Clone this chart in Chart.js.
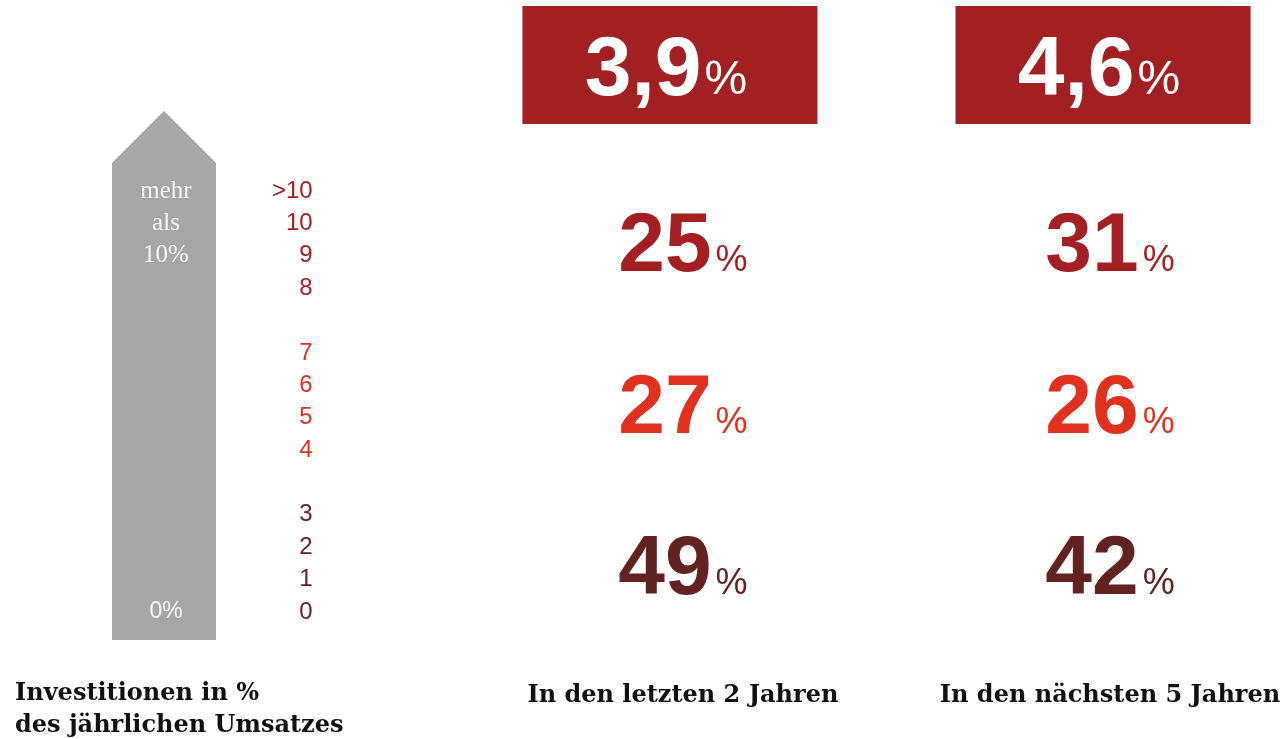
<!DOCTYPE html>
<html>
<head>
<meta charset="utf-8">
<script src="https://cdn.jsdelivr.net/npm/chart.js@4"></script>
<style>
  html, body { margin: 0; padding: 0; background: #ffffff; overflow: hidden; }
  #wrap { width: 1286px; height: 739px; }
</style>
</head>
<body>
<div id="wrap"><canvas id="chart" width="1286" height="739"></canvas></div>
<script>
// 縦軸の目盛り（値と表示）
const yTickValues = [0, 1, 2, 3, 5, 6, 7, 8, 10, 11, 12, 13];
const yTickLabels = ['0', '1', '2', '3', '4', '5', '6', '7', '8', '9', '10', '>10'];

// 投資額のグループ（下から：0-3、4-7、8以上）
const groupNames = ['0 bis 3 %', '4 bis 7 %', '8 % und mehr'];
const groupLevels = [1.5, 6.5, 11.5];
const groupColors = ['#62221f', '#e0311f', '#a31f22'];

// 期間
const periods = ['In den letzten 2 Jahren', 'In den nächsten 5 Jahren'];

// 各期間の割合（下のグループから順）
const sharesLast2 = [49, 27, 25];
const sharesNext5 = [42, 26, 31];

// 平均値
const averages = [3.9, 4.6];

const AXIS_TITLE = ['Investitionen in %', 'des jährlichen Umsatzes'];
const SANS = '"Liberation Sans", Arial, sans-serif';
const SERIF = '"DejaVu Serif", Georgia, serif';
const HEAD_RED = '#a21f22';
const ARROW_GREY = '#a6a6a6';

// 目盛りの値からグループの色を返す
function colorForValue(v) {
  if (v >= 10) return groupColors[2];
  if (v >= 5) return groupColors[1];
  return groupColors[0];
}

// データセット（グループごと）
const datasets = groupNames.map(function(name, g) {
  return {
    label: name,
    data: periods.map(function(p, i) {
      const shares = i === 0 ? sharesLast2 : sharesNext5;
      return { x: i, y: groupLevels[g], share: shares[g] };
    }),
    pointRadius: 0,
    pointHoverRadius: 0,
    color: groupColors[g]
  };
});

/*
  矢印と見出しボックス
*/
const decorPlugin = {
  id: 'decor',
  beforeDatasetsDraw(chart) {
    const ctx = chart.ctx;
    const y = chart.scales.y;
    const x = chart.scales.x;
    const bottom = y.getPixelForValue(0) + 28;
    const shoulder = y.getPixelForValue(13) - 28;
    const left = 112, right = 216, mid = (left + right) / 2;

    // 矢印
    ctx.save();
    ctx.fillStyle = ARROW_GREY;
    ctx.beginPath();
    ctx.moveTo(left, bottom);
    ctx.lineTo(left, shoulder);
    ctx.lineTo(mid, shoulder - 52);
    ctx.lineTo(right, shoulder);
    ctx.lineTo(right, bottom);
    ctx.closePath();
    ctx.fill();

    ctx.fillStyle = '#f4f4f4';
    ctx.textAlign = 'center';
    ctx.textBaseline = 'middle';
    ctx.font = '25px "Liberation Serif", serif';
    ctx.fillText('mehr', mid + 2, y.getPixelForValue(13));
    ctx.fillText('als', mid + 2, y.getPixelForValue(12));
    ctx.fillText('10%', mid + 2, y.getPixelForValue(11));
    ctx.font = '23px ' + SANS;
    ctx.fillText('0%', mid + 2, y.getPixelForValue(0));

    // 平均値の見出し（ボックスは列の中心から少し左へ）
    const shift = [-13, -7];
    averages.forEach(function(avg, i) {
      const cx = x.getPixelForValue(i) + shift[i];
      const bw = 295, top = 6, bh = 118;
      ctx.fillStyle = HEAD_RED;
      ctx.fillRect(cx - bw / 2, top, bw, bh);

      const num = avg.toFixed(1).replace('.', ',');
      ctx.font = 'bold 84px ' + SANS;
      const nw = ctx.measureText(num).width;
      ctx.font = '48px ' + SANS;
      const pw = ctx.measureText('%').width;
      const sx = cx - 4 - (nw + 3 + pw) / 2;
      ctx.fillStyle = '#ffffff';
      ctx.textAlign = 'left';
      ctx.textBaseline = 'alphabetic';
      ctx.font = 'bold 84px ' + SANS;
      ctx.fillText(num, sx, top + 89);
      ctx.font = '48px ' + SANS;
      ctx.fillText('%', sx + nw + 3, top + 88);
    });

    // 左下の説明
    ctx.fillStyle = '#111111';
    ctx.textAlign = 'left';
    ctx.textBaseline = 'middle';
    ctx.font = 'bold 24px ' + SERIF;
    ctx.fillText(AXIS_TITLE[0], 15, 694);
    ctx.fillText(AXIS_TITLE[1], 15, 726);
    ctx.restore();
  },
  afterDatasetsDraw(chart) {
    const ctx = chart.ctx;
    ctx.save();
    chart.data.datasets.forEach(function(ds, di) {
      const meta = chart.getDatasetMeta(di);
      meta.data.forEach(function(pt, j) {
        const share = ds.data[j].share;
        const num = String(share);
        ctx.font = 'bold 84px ' + SANS;
        const nw = ctx.measureText(num).width;
        ctx.font = '36px ' + SANS;
        const pw = ctx.measureText('%').width;
        const sx = pt.x - (nw + 4 + pw) / 2;
        ctx.fillStyle = ds.color;
        ctx.textAlign = 'left';
        ctx.textBaseline = 'alphabetic';
        ctx.font = 'bold 84px ' + SANS;
        ctx.fillText(num, sx, pt.y + 31);
        ctx.font = '36px ' + SANS;
        ctx.fillText('%', sx + nw + 4, pt.y + 31);
      });
    });
    ctx.restore();
  }
};

new Chart(document.getElementById('chart'), {
  type: 'scatter',
  data: { datasets: datasets },
  plugins: [decorPlugin],
  options: {
    responsive: false,
    animation: false,
    events: [],
    layout: { padding: { left: 264, right: 0, top: 191, bottom: 0 } },
    plugins: {
      legend: { display: false },
      tooltip: { enabled: false }
    },
    scales: {
      x: {
        type: 'linear',
        min: -0.848,
        max: 1.412,
        border: { display: false },
        grid: { display: false, drawTicks: false },
        afterBuildTicks: function(scale) {
          scale.ticks = periods.map(function(p, i) { return { value: i }; });
        },
        afterFit: function(scale) {
          scale.height = 127;
          scale.paddingLeft = 0;
          scale.paddingRight = 0;
        },
        ticks: {
          autoSkip: false,
          maxRotation: 0,
          padding: 69,
          color: '#111111',
          font: { family: SERIF, size: 24, weight: 'bold' },
          callback: function(v) { return periods[v]; }
        }
      },
      y: {
        type: 'linear',
        min: 0,
        max: 13,
        border: { display: false },
        grid: { display: false, drawTicks: false },
        afterBuildTicks: function(scale) {
          scale.ticks = yTickValues.map(function(v) { return { value: v }; });
        },
        ticks: {
          autoSkip: false,
          padding: 8,
          font: { family: SANS, size: 24 },
          color: function(c) { return colorForValue(c.tick.value); },
          callback: function(v) { return yTickLabels[yTickValues.indexOf(v)]; }
        }
      }
    }
  }
});
</script>
</body>
</html>
